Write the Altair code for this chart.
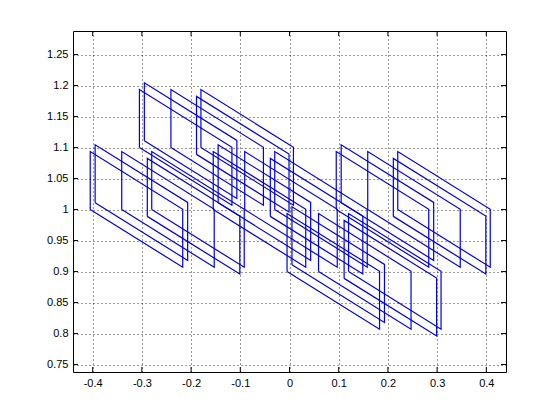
import altair as alt
import pandas as pd

# lower-left corner of each sheared box
shape_x = [-0.405, -0.395, -0.341, -0.289, -0.280,
           -0.155, -0.145, -0.091, -0.039, -0.030,
            0.095,  0.105,  0.159,  0.211,  0.220,
           -0.305, -0.295, -0.241, -0.189, -0.180,
           -0.005,  0.005,  0.059,  0.111,  0.120]
shape_y = [1.000, 1.011, 1.000, 0.989, 1.000,
           1.000, 1.011, 1.000, 0.989, 1.000,
           1.000, 1.011, 1.000, 0.989, 1.000,
           1.100, 1.111, 1.100, 1.089, 1.100,
           0.900, 0.911, 0.900, 0.889, 0.900]
box_w = 0.188      # horizontal extent of each box
box_h = 0.0935     # height of the vertical edges
box_drop = 0.093   # drop of the slanted edges across the width

x_ticks = [-0.4, -0.3, -0.2, -0.1, 0.0, 0.1, 0.2, 0.3, 0.4]
y_ticks = [0.75, 0.8, 0.85, 0.9, 0.95, 1.0, 1.05, 1.1, 1.15, 1.2, 1.25]
x_domain = [-0.44, 0.44]
y_domain = [0.738, 1.288]

rows = []
for i, (x0, y0) in enumerate(zip(shape_x, shape_y)):
    corners = [(x0, y0), (x0, y0 + box_h), (x0 + box_w, y0 + box_h - box_drop),
               (x0 + box_w, y0 - box_drop), (x0, y0)]
    for k, (cx, cy) in enumerate(corners):
        rows.append({"shape": i, "order": k, "x": cx, "y": cy})
df = pd.DataFrame(rows)

xt = pd.DataFrame({"x": x_ticks})
yt = pd.DataFrame({"y": y_ticks})

W, H = 433, 341
FONT = "Liberation Sans"
label_expr = "replace(format(datum.value, '~g'), '\u2212', '-')"

xscale = alt.Scale(domain=x_domain, nice=False, zero=False)
yscale = alt.Scale(domain=y_domain, nice=False, zero=False)

grid_style = dict(grid=True, gridColor="#000000", gridDash=[1, 3], gridOpacity=0.8,
                  gridWidth=1, ticks=False, domain=False, title=None,
                  labelFont=FONT, labelFontSize=11, labelColor="#000000",
                  labelExpr=label_expr)

xaxis = alt.Axis(values=x_ticks, labelPadding=5, **grid_style)
yaxis = alt.Axis(values=y_ticks, labelPadding=5, **grid_style)

lines = alt.Chart(df).mark_line(color="#0000e0", strokeWidth=1.2).encode(
    x=alt.X("x:Q", scale=xscale, axis=xaxis),
    y=alt.Y("y:Q", scale=yscale, axis=yaxis),
    detail="shape:N",
    order="order:Q",
)

tick_color = "#000000"
xb = alt.Chart(xt).mark_rule(color=tick_color).encode(
    x=alt.X("x:Q", scale=xscale, axis=xaxis), y=alt.value(H), y2=alt.value(H - 5))
xtop = alt.Chart(xt).mark_rule(color=tick_color).encode(
    x=alt.X("x:Q", scale=xscale, axis=xaxis), y=alt.value(0), y2=alt.value(5))
yl = alt.Chart(yt).mark_rule(color=tick_color).encode(
    y=alt.Y("y:Q", scale=yscale, axis=yaxis), x=alt.value(0), x2=alt.value(5))
yr = alt.Chart(yt).mark_rule(color=tick_color).encode(
    y=alt.Y("y:Q", scale=yscale, axis=yaxis), x=alt.value(W), x2=alt.value(W - 5))

chart = alt.layer(lines, xb, xtop, yl, yr).properties(
    width=W, height=H,
    padding={"left": 65, "top": 23, "right": 40, "bottom": 35},
    autosize=alt.AutoSizeParams(type="none"),
    background="#ffffff",
).configure_view(stroke="#000000", strokeWidth=1)

chart.save("out.html", embed_options={"renderer": "svg", "actions": False})
